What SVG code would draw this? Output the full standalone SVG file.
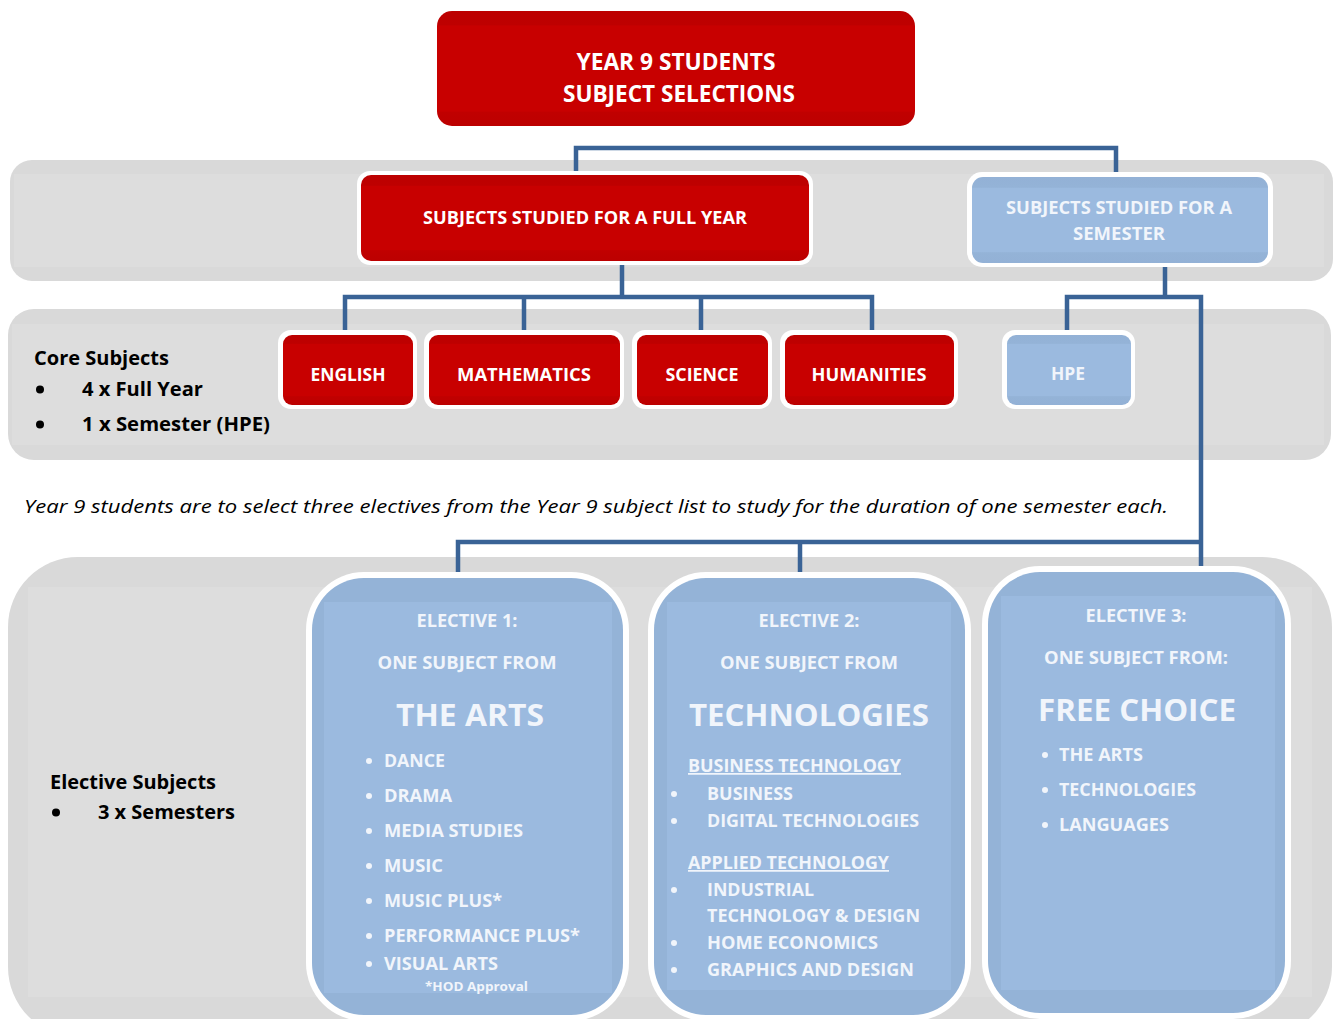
<svg xmlns="http://www.w3.org/2000/svg" width="1334" height="1019" viewBox="0 0 1334 1019">
<defs>
<linearGradient id="red" x1="0" y1="0" x2="0" y2="1">
<stop offset="0" stop-color="#BC0000"/><stop offset="0.12" stop-color="#BE0000"/><stop offset="0.13" stop-color="#C80000"/><stop offset="0.87" stop-color="#C80000"/><stop offset="0.88" stop-color="#C00000"/><stop offset="1" stop-color="#BC0000"/>
</linearGradient>
<linearGradient id="blue" x1="0" y1="0" x2="0" y2="1">
<stop offset="0" stop-color="#93B1D6"/><stop offset="0.12" stop-color="#94B3D7"/><stop offset="0.13" stop-color="#9BBADF"/><stop offset="0.87" stop-color="#9BBADF"/><stop offset="0.88" stop-color="#94B3D7"/><stop offset="1" stop-color="#93B1D6"/>
</linearGradient>
<style>
.band{fill:#D9D9D9}
.bandin{fill:#DDDDDD}
.rim{fill:#FFFFFF}
.red{fill:url(#red)}
.blue{fill:url(#blue)}
.eout{fill:#94B3D7}
.ein{fill:#9BBADF}
.conn{fill:none;stroke:#3A6396;stroke-width:4.5;stroke-linecap:square;stroke-linejoin:miter}
text{font-family:"Open Sans",Lato,"Liberation Sans",sans-serif;font-weight:bold}
.w{fill:#FFFFFF}
.lw{fill:#F1F5FB}
.k{fill:#000000}
.c{text-anchor:middle}
.it{font-style:italic;font-weight:normal}
.kb{fill:#000000}
.wb{fill:#F1F5FB}
</style>
</defs>

<g id="bands">
<rect class="band" x="10" y="160" width="1323" height="121" rx="22"/>
<rect class="bandin" x="14" y="174" width="1310" height="93"/>
<rect class="band" x="8" y="309" width="1323" height="151" rx="26"/>
<rect class="bandin" x="12" y="324" width="1312" height="121"/>
<rect class="band" x="8" y="557" width="1324" height="480" rx="70"/>
<rect class="bandin" x="28" y="587" width="1284" height="410"/>
</g>

<g id="connectors">
<path class="conn" d="M576 176 V148 H1116 V176"/>
<path class="conn" d="M622 264 V297 M345 330 V297 H872 V330 M524 297 V330 M701 297 V330"/>
<path class="conn" d="M1165 265 V297 M1067 330 V297 H1201 V566 M1201 542 H458 V571 M800 542 V571"/>
</g>

<g id="title">
<rect class="red" x="437" y="11" width="478" height="115" rx="15"/>
<text class="w c" x="676" y="70" font-size="22.5" textLength="199" lengthAdjust="spacingAndGlyphs">YEAR 9 STUDENTS</text>
<text class="w c" x="679" y="102" font-size="22.5" textLength="232" lengthAdjust="spacingAndGlyphs">SUBJECT SELECTIONS</text>
</g>

<g id="full-year">
<rect class="rim" x="357" y="171" width="456" height="94" rx="13"/>
<rect class="red" x="361" y="175" width="448" height="86" rx="10"/>
<text class="w c" x="585" y="224" font-size="17" textLength="324" lengthAdjust="spacingAndGlyphs">SUBJECTS STUDIED FOR A FULL YEAR</text>
</g>

<g id="semester">
<rect class="rim" x="967" y="172" width="306" height="95" rx="15"/>
<rect class="blue" x="972" y="177" width="296" height="86" rx="11"/>
<text class="lw c" x="1119" y="214" font-size="17" textLength="226" lengthAdjust="spacingAndGlyphs">SUBJECTS STUDIED FOR A</text>
<text class="lw c" x="1119" y="240" font-size="17" textLength="92" lengthAdjust="spacingAndGlyphs">SEMESTER</text>
</g>

<g id="core-label">
<text class="k" x="34" y="365" font-size="19" textLength="135" lengthAdjust="spacingAndGlyphs">Core Subjects</text>
<circle class="kb" cx="40" cy="389.5" r="4"/>
<text class="k" x="82" y="396" font-size="19" textLength="121" lengthAdjust="spacingAndGlyphs">4 x Full Year</text>
<circle class="kb" cx="40" cy="424.5" r="4"/>
<text class="k" x="82" y="431" font-size="19" textLength="188" lengthAdjust="spacingAndGlyphs">1 x Semester (HPE)</text>
</g>

<g id="english">
<rect class="rim" x="278" y="330" width="139" height="79" rx="13"/>
<rect class="red" x="283" y="335" width="130" height="70" rx="9"/>
<text class="w c" x="348" y="381" font-size="17" textLength="75" lengthAdjust="spacingAndGlyphs">ENGLISH</text>
</g>
<g id="mathematics">
<rect class="rim" x="424" y="330" width="200" height="79" rx="13"/>
<rect class="red" x="429" y="335" width="191" height="70" rx="9"/>
<text class="w c" x="524" y="381" font-size="17" textLength="134" lengthAdjust="spacingAndGlyphs">MATHEMATICS</text>
</g>
<g id="science">
<rect class="rim" x="632" y="330" width="140" height="79" rx="13"/>
<rect class="red" x="637" y="335" width="131" height="70" rx="9"/>
<text class="w c" x="702" y="381" font-size="17" textLength="73" lengthAdjust="spacingAndGlyphs">SCIENCE</text>
</g>
<g id="humanities">
<rect class="rim" x="780" y="330" width="178" height="79" rx="13"/>
<rect class="red" x="785" y="335" width="169" height="70" rx="9"/>
<text class="w c" x="869" y="381" font-size="17" textLength="115" lengthAdjust="spacingAndGlyphs">HUMANITIES</text>
</g>
<g id="hpe">
<rect class="rim" x="1002" y="330" width="133" height="79" rx="13"/>
<rect class="blue" x="1007" y="335" width="124" height="70" rx="9"/>
<text class="lw c" x="1068" y="380" font-size="17" textLength="34" lengthAdjust="spacingAndGlyphs">HPE</text>
</g>

<g id="note">
<text class="k it" x="24" y="513" font-size="19" textLength="1144" lengthAdjust="spacingAndGlyphs">Year 9 students are to select three electives from the Year 9 subject list to study for the duration of one semester each.</text>
</g>

<g id="elective-label">
<text class="k" x="50" y="789" font-size="19" textLength="166" lengthAdjust="spacingAndGlyphs">Elective Subjects</text>
<circle class="kb" cx="56" cy="812.5" r="4"/>
<text class="k" x="98" y="819" font-size="19" textLength="137" lengthAdjust="spacingAndGlyphs">3 x Semesters</text>
</g>

<g id="elective-1">
<rect class="rim" x="306" y="572" width="323" height="449" rx="58"/>
<rect class="eout" x="312" y="578" width="311" height="437" rx="52"/>
<rect class="ein" x="324" y="602" width="288" height="391"/>
<text class="lw c" x="467" y="627" font-size="17" textLength="101" lengthAdjust="spacingAndGlyphs">ELECTIVE 1:</text>
<text class="lw c" x="467" y="669" font-size="17.5" textLength="179" lengthAdjust="spacingAndGlyphs">ONE SUBJECT FROM</text>
<text class="lw c" x="470" y="726" font-size="29.5" textLength="148" lengthAdjust="spacingAndGlyphs">THE ARTS</text>
<g class="wb">
<circle cx="369" cy="761" r="3"/><circle cx="369" cy="796" r="3"/><circle cx="369" cy="831" r="3"/><circle cx="369" cy="866" r="3"/><circle cx="369" cy="901" r="3"/><circle cx="369" cy="936" r="3"/><circle cx="369" cy="964" r="3"/>
</g>
<g class="lw" font-size="17.5">
<text x="384" y="767" textLength="61" lengthAdjust="spacingAndGlyphs">DANCE</text>
<text x="384" y="802" textLength="68" lengthAdjust="spacingAndGlyphs">DRAMA</text>
<text x="384" y="837" textLength="139" lengthAdjust="spacingAndGlyphs">MEDIA STUDIES</text>
<text x="384" y="872" textLength="59" lengthAdjust="spacingAndGlyphs">MUSIC</text>
<text x="384" y="907" textLength="118" lengthAdjust="spacingAndGlyphs">MUSIC PLUS*</text>
<text x="384" y="942" textLength="196" lengthAdjust="spacingAndGlyphs">PERFORMANCE PLUS*</text>
<text x="384" y="970" textLength="114" lengthAdjust="spacingAndGlyphs">VISUAL ARTS</text>
</g>
<text class="lw" x="425" y="991" font-size="13" textLength="103" lengthAdjust="spacingAndGlyphs">*HOD Approval</text>
</g>

<g id="elective-2">
<rect class="rim" x="648" y="572" width="323" height="449" rx="58"/>
<rect class="eout" x="654" y="578" width="311" height="437" rx="52"/>
<rect class="ein" x="667" y="602" width="284" height="388"/>
<text class="lw c" x="809" y="627" font-size="17" textLength="101" lengthAdjust="spacingAndGlyphs">ELECTIVE 2:</text>
<text class="lw c" x="809" y="669" font-size="17.5" textLength="178" lengthAdjust="spacingAndGlyphs">ONE SUBJECT FROM</text>
<text class="lw c" x="809" y="726" font-size="29.5" textLength="240" lengthAdjust="spacingAndGlyphs">TECHNOLOGIES</text>
<g class="wb">
<circle cx="674" cy="794" r="3"/><circle cx="674" cy="821" r="3"/><circle cx="674" cy="890" r="3"/><circle cx="674" cy="943" r="3"/><circle cx="674" cy="970" r="3"/>
</g>
<g class="lw" font-size="17.5">
<text x="688" y="772" text-decoration="underline" textLength="213" lengthAdjust="spacingAndGlyphs">BUSINESS TECHNOLOGY</text>
<text x="707" y="800" textLength="86" lengthAdjust="spacingAndGlyphs">BUSINESS</text>
<text x="707" y="827" textLength="212" lengthAdjust="spacingAndGlyphs">DIGITAL TECHNOLOGIES</text>
<text x="688" y="869" text-decoration="underline" textLength="201" lengthAdjust="spacingAndGlyphs">APPLIED TECHNOLOGY</text>
<text x="707" y="896" textLength="107" lengthAdjust="spacingAndGlyphs">INDUSTRIAL</text>
<text x="707" y="922" textLength="213" lengthAdjust="spacingAndGlyphs">TECHNOLOGY &amp; DESIGN</text>
<text x="707" y="949" textLength="171" lengthAdjust="spacingAndGlyphs">HOME ECONOMICS</text>
<text x="707" y="976" textLength="207" lengthAdjust="spacingAndGlyphs">GRAPHICS AND DESIGN</text>
</g>
</g>

<g id="elective-3">
<rect class="rim" x="982" y="566" width="309" height="453" rx="58"/>
<rect class="eout" x="988" y="572" width="297" height="441" rx="52"/>
<rect class="ein" x="1001" y="596" width="274" height="394"/>
<text class="lw c" x="1136" y="622" font-size="17" textLength="101" lengthAdjust="spacingAndGlyphs">ELECTIVE 3:</text>
<text class="lw c" x="1136" y="664" font-size="17.5" textLength="184" lengthAdjust="spacingAndGlyphs">ONE SUBJECT FROM:</text>
<text class="lw c" x="1137" y="721" font-size="29.5" textLength="198" lengthAdjust="spacingAndGlyphs">FREE CHOICE</text>
<g class="wb">
<circle cx="1045" cy="755" r="3"/><circle cx="1045" cy="790" r="3"/><circle cx="1045" cy="825" r="3"/>
</g>
<g class="lw" font-size="17.5">
<text x="1059" y="761" textLength="84" lengthAdjust="spacingAndGlyphs">THE ARTS</text>
<text x="1059" y="796" textLength="137" lengthAdjust="spacingAndGlyphs">TECHNOLOGIES</text>
<text x="1059" y="831" textLength="110" lengthAdjust="spacingAndGlyphs">LANGUAGES</text>
</g>
</g>
</svg>
